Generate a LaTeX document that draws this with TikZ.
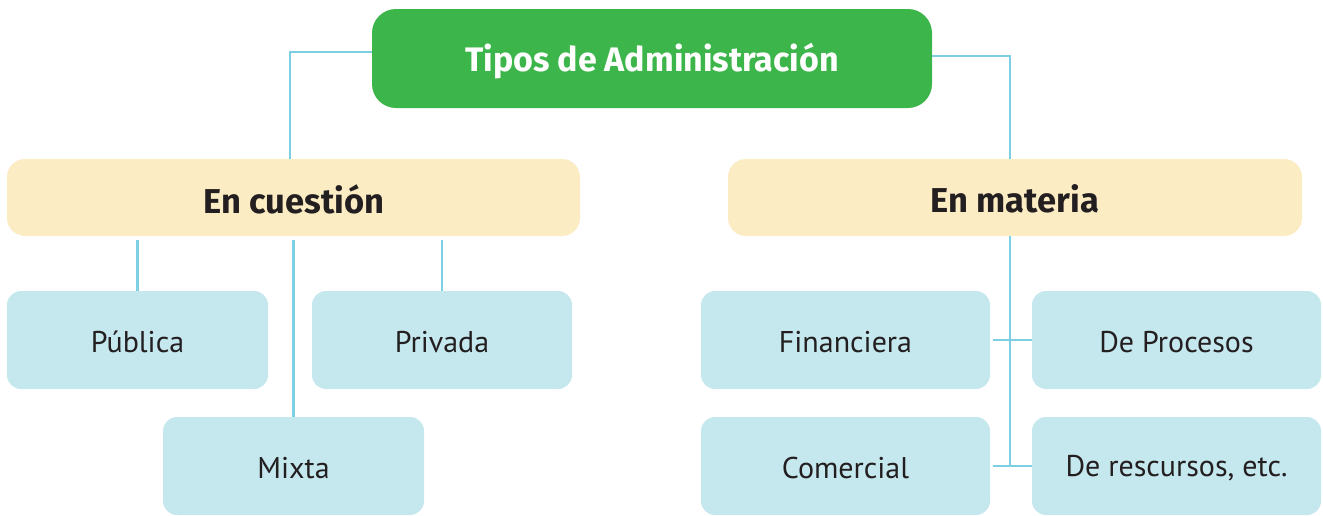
\documentclass[tikz,border=0pt]{standalone}
\usepackage{fontspec}
\setmainfont{PT Sans}
\newfontfamily\titlefont{Fira Sans}
\newfontfamily\heavyfont{Fira Sans}
\definecolor{cgreen}{HTML}{3CB54A}
\definecolor{cyellow}{HTML}{FCECC4}
\definecolor{cblue}{HTML}{C5E7EE}
\definecolor{cline}{HTML}{7DCFE3}
\definecolor{ctext}{HTML}{231F20}
\begin{document}
\begin{tikzpicture}[x=1pt,y=-1pt,
  topbox/.style={fill=cgreen, rounded corners=24pt, minimum width=560pt, minimum height=99pt, text=white, font=\titlefont\bfseries\fontsize{34}{40}\selectfont, inner sep=0pt},
  midbox/.style={fill=cyellow, rounded corners=18pt, minimum width=573pt, minimum height=77pt, text=ctext, font=\heavyfont\bfseries\fontsize{34.5}{40}\selectfont, inner sep=0pt},
  leafbox/.style={fill=cblue, rounded corners=14pt, minimum height=98pt, text=ctext, font=\fontsize{30}{36}\selectfont, inner sep=0pt},
  conn/.style={draw=cline, line width=2.6pt},
  lbl/.style={anchor=center, inner sep=0pt}]
\useasboundingbox (0,0) rectangle (1323,515);
\node[topbox] (title) at (652,58.5) {};
\node[lbl, font=\titlefont\bfseries\fontsize{34}{40}\selectfont, text=white] (titlet) at (652,61) {Tipos de Administración};
\node[midbox] (ec) at (293.5,197.5) {};
\node[lbl, font=\heavyfont\bfseries\fontsize{34.5}{40}\selectfont, text=ctext] (ect) at (294,199) {En cuestión};
\node[midbox, minimum width=574pt] (em) at (1015,197.5) {};
\node[lbl, font=\heavyfont\bfseries\fontsize{34.5}{40}\selectfont, text=ctext] (emt) at (1015,199) {En materia};
\node[leafbox, minimum width=261pt] (pub) at (137.5,340) {};
\node[leafbox, minimum width=260pt] (priv) at (442,340) {};
\node[leafbox, minimum width=261pt] (mix) at (293.5,466) {};
\node[leafbox, minimum width=289pt] (fin) at (845.5,340) {};
\node[leafbox, minimum width=289pt] (proc) at (1176.5,340) {};
\node[leafbox, minimum width=289pt] (com) at (845.5,466) {};
\node[leafbox, minimum width=289pt] (rec) at (1176.5,466) {};
\tikzset{leaft/.style={lbl, text=ctext, font=\fontsize{30}{36}\selectfont}}
\node[leaft] (pubt) at (137.5,342) {Pública};
\node[leaft] (privt) at (442,342) {Privada};
\node[leaft] (mixt) at (293.5,468) {Mixta};
\node[leaft] (fint) at (845.5,342) {Financiera};
\node[leaft] (proct) at (1176.5,342) {De Procesos};
\node[leaft] (comt) at (845.5,468) {Comercial};
\node[leaft] (rect) at (1176.5,468) {De rescursos, etc.};
\coordinate (jl) at (290,52);
\coordinate (jr) at (1010,56);
\coordinate (jb) at (1010,466);
\draw[conn] (title.west |- jl) -- (jl) -- (jl |- ec.north);
\draw[conn] (title.east |- jr) -- (jr) -- (jr |- em.north);
\draw[conn] ([yshift=-4pt]ec.south -| pub.north) -- (pub.north);
\draw[conn] ([yshift=-4pt]ec.south -| priv.north) -- (priv.north);
\draw[conn] ([yshift=-4pt]ec.south -| mix.north) -- (mix.north);
\draw[conn] (em.south -| jb) -- (jb);
\draw[conn] ([xshift=3pt]fin.east) -- (proc.west);
\draw[conn] ([xshift=3pt]com.east) -- (rec.west);
\end{tikzpicture}
\end{document}
